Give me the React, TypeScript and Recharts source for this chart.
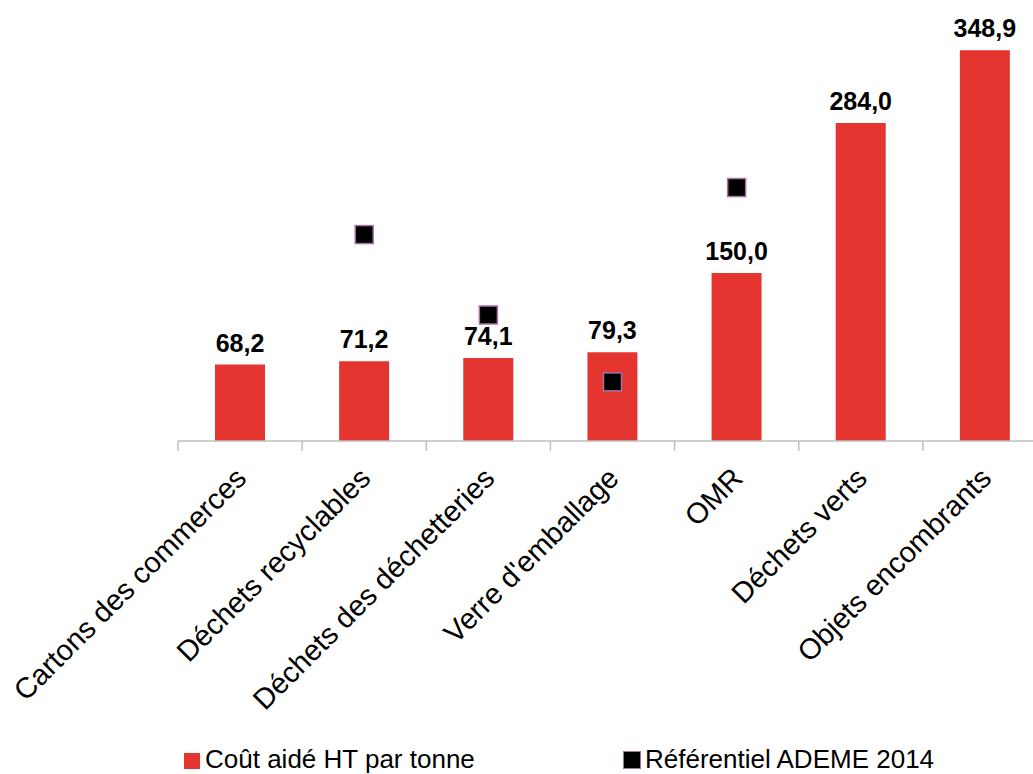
import { ComposedChart, Bar, Scatter, XAxis, YAxis, Legend, LabelList } from 'recharts';

const categories = [
  'Cartons des commerces',
  'Déchets recyclables',
  'Déchets des déchetteries',
  "Verre d'emballage",
  'OMR',
  'Déchets verts',
  'Objets encombrants',
];
const coutAide = [68.2, 71.2, 74.1, 79.3, 150.0, 284.0, 348.9];
const referentiel = [null, 184.3, 112.5, 52.8, 226.3, null, null];

const data = categories.map((name, i) => ({ name, cout: coutAide[i], ademe: referentiel[i] }));

const FONT = '"Liberation Sans", Arial, sans-serif';
const RED = '#E53530';

const fmt = (v: number) => v.toFixed(1).replace('.', ',');

const AxisTick = ({ x, y, payload }: any) => {
  const half = payload?.offset || 62;
  return (
    <g>
      <line x1={x - half} y1={y} x2={x - half} y2={y + 10} stroke="#BFBFBF" strokeWidth={1.5} />
      <text
        x={x + 8}
        y={y + 39}
        transform={`rotate(-45, ${x + 8}, ${y + 39})`}
        textAnchor="end"
        fontFamily={FONT}
        fontSize={29}
        fill="#000"
      >
        {payload.value}
      </text>
    </g>
  );
};

const ValueLabel = ({ x, y, width, value }: any) => (
  <text
    x={x + width / 2}
    y={y - 13}
    textAnchor="middle"
    fontFamily={FONT}
    fontSize={25}
    fontWeight="bold"
    fill="#000"
  >
    {fmt(value)}
  </text>
);

const SquareMarker = ({ cx, cy, payload }: any) => {
  if (payload == null || payload.ademe == null || cx == null || cy == null) return <g />;
  return <rect x={cx - 9} y={cy - 9} width={18} height={18} fill="#000" stroke="#A574A5" strokeWidth={1.5} />;
};

const renderLegend = () => (
  <div style={{ position: 'relative', width: 1033, height: 30, fontFamily: FONT, fontSize: 26, color: '#000' }}>
    <div style={{ position: 'absolute', left: 184, top: 9, width: 16, height: 16, background: RED }} />
    <span style={{ position: 'absolute', left: 205, top: 0, lineHeight: '30px', whiteSpace: 'nowrap' }}>
      Coût aidé HT par tonne
    </span>
    <div
      style={{
        position: 'absolute', left: 623, top: 7, width: 16, height: 16,
        background: '#000', border: '1.5px solid #A574A5',
      }}
    />
    <span style={{ position: 'absolute', left: 645, top: 0, lineHeight: '30px', whiteSpace: 'nowrap' }}>
      Référentiel ADEME 2014
    </span>
  </div>
);

export default function App() {
  return (
    <div style={{ position: 'absolute', left: 0, top: 0, width: 1033, height: 774, overflow: 'hidden', background: '#fff' }}>
      <ComposedChart
        width={1060}
        height={774}
        data={data}
        margin={{ top: 49, right: 13, bottom: 0, left: 178 }}
        barSize={50}
      >
        <XAxis
          dataKey="name"
          interval={0}
          height={303}
          tickSize={0}
          tickMargin={0}
          tickLine={false}
          axisLine={{ stroke: '#BFBFBF', strokeWidth: 1.5 }}
          tick={<AxisTick />}
        />
        <YAxis hide domain={[0, 350]} allowDataOverflow />
        <Legend
          verticalAlign="bottom"
          content={renderLegend}
          wrapperStyle={{ left: 0, width: 1033, height: 30 }}
        />
        <Bar dataKey="cout" fill={RED} isAnimationActive={false}>
          <LabelList dataKey="cout" content={<ValueLabel />} />
        </Bar>
        <Scatter dataKey="ademe" shape={<SquareMarker />} isAnimationActive={false} />
      </ComposedChart>
    </div>
  );
}
